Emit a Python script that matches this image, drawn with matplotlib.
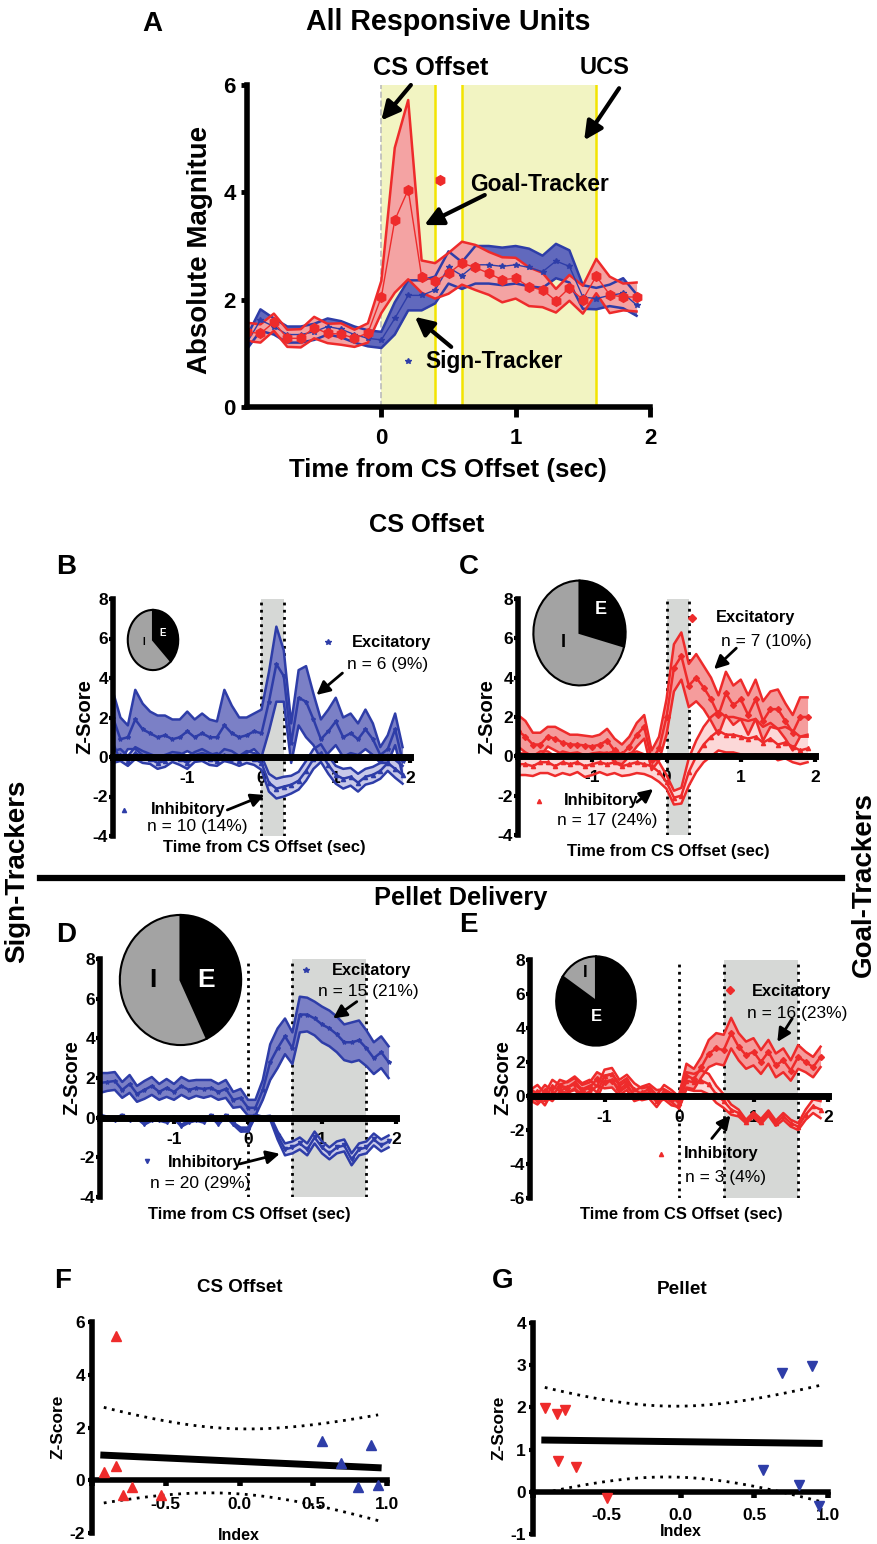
import numpy as np
import matplotlib
matplotlib.use('Agg')
import matplotlib.pyplot as plt
from matplotlib.lines import Line2D

W, H = 877, 1544
FONT = ['Liberation Sans', 'DejaVu Sans']
plt.rcParams['font.family'] = FONT
plt.rcParams['font.weight'] = 'bold'
plt.rcParams['axes.unicode_minus'] = False

BLUE = '#2e3da8'
RED = '#ee2b2b'

# ---------------- panel A : all responsive units ----------------
t_a = [-1.0, -0.9, -0.8, -0.7, -0.6, -0.5, -0.4, -0.3, -0.2, -0.1,
       0.0, 0.1, 0.2, 0.3, 0.4, 0.5, 0.6, 0.7, 0.8, 0.9,
       1.0, 1.1, 1.2, 1.3, 1.4, 1.5, 1.6, 1.7, 1.8, 1.9]
gt_mean = [1.40, 1.37, 1.58, 1.28, 1.28, 1.48, 1.37, 1.36, 1.28, 1.38,
           2.05, 3.48, 4.05, 2.43, 2.35, 2.49, 2.68, 2.60, 2.49, 2.37,
           2.40, 2.24, 2.18, 1.98, 2.22, 2.00, 2.44, 2.09, 2.05, 2.05]
gt_sem = [0.17, 0.17, 0.16, 0.16, 0.17, 0.20, 0.18, 0.20, 0.16, 0.18,
          0.30, 1.35, 1.67, 0.30, 0.33, 0.38, 0.40, 0.42, 0.40, 0.42,
          0.38, 0.36, 0.32, 0.22, 0.24, 0.26, 0.32, 0.34, 0.25, 0.27]
st_mean = [1.20, 1.62, 1.50, 1.35, 1.35, 1.40, 1.50, 1.45, 1.35, 1.28,
           1.25, 1.65, 2.08, 2.08, 2.18, 2.60, 2.45, 2.65, 2.65, 2.62,
           2.65, 2.60, 2.52, 2.72, 2.62, 2.05, 2.02, 2.08, 2.12, 1.90]
st_sem = [0.12, 0.20, 0.15, 0.15, 0.15, 0.15, 0.15, 0.15, 0.15, 0.15,
          0.15, 0.30, 0.28, 0.28, 0.25, 0.30, 0.25, 0.35, 0.35, 0.35,
          0.35, 0.35, 0.30, 0.32, 0.30, 0.22, 0.20, 0.20, 0.28, 0.20]

# ---------------- panels B-E : z-score traces ----------------
t_b = [-2.0, -1.9, -1.8, -1.7, -1.6, -1.5, -1.4, -1.3, -1.2, -1.1,
       -1.0, -0.9, -0.8, -0.7, -0.6, -0.5, -0.4, -0.3, -0.2, -0.1,
       0.0, 0.1, 0.2, 0.3, 0.4, 0.5, 0.6, 0.7, 0.8, 0.9,
       1.0, 1.1, 1.2, 1.3, 1.4, 1.5, 1.6, 1.7, 1.8, 1.9]

b_exc_mean = [2.0, 0.9, 1.0, 1.9, 1.4, 1.2, 1.0, 1.1, 0.9, 1.0,
              1.3, 1.0, 1.2, 1.0, 1.0, 1.6, 1.2, 1.0, 1.1, 1.3,
              1.2, 2.8, 4.7, 4.1, 0.7, 3.0, 2.8, 1.9, 0.9, 1.3,
              1.8, 1.0, 1.2, 0.9, 1.4, 0.9, 0.1, 0.4, 1.4, -0.2]
b_exc_sem = [1.3, 1.1, 0.6, 1.5, 1.3, 1.1, 1.1, 1.0, 1.0, 0.9,
             1.0, 0.9, 1.0, 0.9, 0.8, 1.8, 1.4, 1.0, 0.9, 0.9,
             1.2, 1.5, 1.9, 1.3, 1.0, 1.4, 1.8, 1.3, 1.0, 1.1,
             1.2, 1.0, 1.0, 0.8, 1.0, 0.8, 0.4, 0.7, 0.8, 0.7]
b_inh_mean = [0.0, 0.1, -0.2, 0.2, 0.0, -0.1, -0.3, -0.2, 0.0, -0.1,
              -0.3, 0.0, 0.1, -0.1, -0.2, 0.1, 0.0, -0.2, 0.0, -0.1,
              -0.3, -1.3, -1.6, -1.5, -1.4, -1.2, -0.7, -0.1, 0.2, -0.4,
              -0.9, -1.1, -1.0, -1.3, -1.0, -0.9, -0.7, -0.3, -0.6, -0.9]
b_inh_sem = [0.30, 0.30, 0.25, 0.30, 0.30, 0.25, 0.30, 0.30, 0.25, 0.30,
             0.30, 0.25, 0.30, 0.30, 0.25, 0.30, 0.30, 0.25, 0.30, 0.30,
             0.35, 0.45, 0.50, 0.50, 0.45, 0.45, 0.50, 0.50, 0.45, 0.45,
             0.45, 0.50, 0.45, 0.45, 0.40, 0.40, 0.40, 0.40, 0.45, 0.45]

c_exc_mean = [1.3, 1.0, 0.6, 0.6, 1.0, 0.9, 0.7, 0.6, 0.6, 0.55,
              0.5, 0.6, 0.8, 0.3, 0.1, 0.5, 1.1, 1.5, -0.2, 0.4,
              2.0, 4.5, 5.1, 3.6, 4.0, 3.5, 2.9, 2.1, 3.2, 2.6,
              2.9, 2.1, 2.9, 1.8, 2.4, 2.4, 1.8, 1.2, 2.0, 2.0]
c_exc_sem = [0.8, 0.8, 0.6, 0.6, 0.5, 0.6, 0.6, 0.5, 0.5, 0.5,
             0.5, 0.5, 0.6, 0.6, 0.5, 0.5, 0.6, 0.6, 0.5, 0.6,
             0.9, 1.2, 1.2, 1.1, 1.2, 1.1, 1.1, 1.0, 1.1, 1.0,
             1.0, 1.0, 1.0, 1.0, 0.9, 1.0, 0.9, 0.9, 1.0, 1.0]
c_inh_mean = [-0.4, -0.4, -0.5, -0.3, -0.3, -0.5, -0.3, -0.4, -0.3, -0.5,
              -0.4, -0.3, -0.4, -0.3, -0.5, -0.4, -0.3, -0.4, -0.5, -0.8,
              -1.3, -2.1, -2.0, -0.8, 0.0, 0.6, 1.0, 1.3, 1.1, 1.1,
              1.0, 0.9, 1.0, 0.7, 0.9, 0.6, 0.7, 0.5, 0.3, 0.4]
c_inh_sem = [0.55, 0.55, 0.5, 0.55, 0.55, 0.5, 0.55, 0.55, 0.5, 0.55,
             0.55, 0.5, 0.55, 0.55, 0.5, 0.55, 0.55, 0.5, 0.55, 0.5,
             0.35, 0.35, 0.4, 0.7, 0.8, 0.9, 1.0, 1.0, 0.9, 0.9,
             0.9, 0.9, 0.9, 0.8, 0.8, 0.8, 0.8, 0.8, 0.7, 0.7]

d_exc_mean = [1.75, 1.8, 1.85, 1.4, 1.7, 1.2, 1.4, 1.6, 1.3, 1.5,
              1.3, 1.6, 1.4, 1.5, 1.45, 1.5, 1.3, 1.45, 0.9, 1.0,
              0.5, 0.5, 1.4, 2.8, 3.5, 4.1, 3.5, 5.2, 5.2, 5.0,
              4.7, 4.5, 4.2, 3.8, 3.8, 3.9, 3.5, 3.0, 3.3, 2.8]
d_exc_sem = [0.5, 0.45, 0.45, 0.4, 0.45, 0.4, 0.45, 0.45, 0.4, 0.45,
             0.4, 0.45, 0.45, 0.4, 0.45, 0.4, 0.4, 0.45, 0.4, 0.45,
             0.4, 0.4, 0.5, 0.9, 1.0, 0.9, 0.8, 0.9, 0.85, 0.85,
             0.9, 0.9, 0.9, 0.9, 1.0, 1.0, 0.9, 0.8, 0.8, 0.8]
d_inh_mean = [0.1, 0.0, -0.1, 0.1, -0.1, 0.0, -0.3, -0.1, -0.1, -0.2,
              0.0, -0.4, -0.2, -0.1, -0.2, 0.1, -0.3, 0.1, -0.3, -0.6,
              -0.6, 0.1, 0.0, 0.0, -0.9, -1.6, -1.5, -1.3, -1.6, -1.0,
              -1.5, -1.8, -1.5, -1.4, -2.1, -1.6, -1.5, -1.1, -1.4, -1.2]
d_inh_sem = [0.05, 0.05, 0.05, 0.05, 0.05, 0.05, 0.05, 0.05, 0.05, 0.05,
             0.05, 0.05, 0.05, 0.05, 0.05, 0.05, 0.05, 0.05, 0.05, 0.1,
             0.1, 0.05, 0.05, 0.1, 0.2, 0.3, 0.3, 0.3, 0.3, 0.3,
             0.3, 0.3, 0.3, 0.3, 0.3, 0.3, 0.3, 0.3, 0.3, 0.3]

e_exc_mean = [0.1, -0.2, 0.3, 0.0, 0.6, 0.5, 0.7, 0.3, 0.5, 1.0,
              0.8, 0.9, 0.4, 0.7, 0.0, 0.2, 0.4, 0.0, 0.1, -0.2,
              -0.3, 1.2, 1.0, 1.7, 2.5, 2.8, 2.7, 3.7, 2.9, 2.4,
              2.6, 2.0, 2.6, 1.8, 2.1, 1.5, 2.3, 2.0, 1.7, 2.3]
e_exc_sem = [0.35, 0.3, 0.35, 0.3, 0.35, 0.3, 0.35, 0.35, 0.3, 0.4,
             0.35, 0.4, 0.35, 0.35, 0.3, 0.35, 0.3, 0.35, 0.3, 0.35,
             0.35, 0.7, 0.6, 0.6, 0.8, 0.9, 0.9, 0.9, 0.8, 0.8,
             0.8, 0.7, 0.7, 0.7, 0.7, 0.6, 0.7, 0.6, 0.6, 0.6]
e_inh_mean = [0.0, 0.3, -0.2, 0.6, 0.3, 0.5, 0.8, 0.4, 0.6, 0.2,
              1.2, 1.3, 0.6, 0.9, 0.4, 0.1, 0.2, -0.3, 0.3, 0.0,
              -0.4, 0.9, 0.8, 0.9, 0.7, 0.1, -0.3, -0.8, -1.0, -1.5,
              -1.1, -1.5, -1.0, -1.6, -1.2, -1.6, -1.8, -1.1, -0.6, -0.8]
e_inh_sem = [0.35, 0.35, 0.35, 0.35, 0.35, 0.35, 0.35, 0.35, 0.35, 0.35,
             0.35, 0.35, 0.35, 0.35, 0.35, 0.35, 0.35, 0.35, 0.35, 0.35,
             0.35, 0.5, 0.5, 0.6, 0.6, 0.5, 0.4, 0.3, 0.2, 0.1,
             0.15, 0.15, 0.15, 0.15, 0.2, 0.2, 0.2, 0.3, 0.4, 0.5]

# excitatory / inhibitory unit counts (pies)
b_counts = [6, 10]
c_counts = [7, 17]
d_counts = [15, 20]
e_counts = [16, 3]

# ---------------- panels F-G : index vs z-score ----------------
f_gt_x = [-0.92, -0.84, -0.84, -0.79, -0.73, -0.53]
f_gt_y = [0.30, 5.47, 0.55, -0.55, -0.24, -0.55]
f_st_x = [0.56, 0.69, 0.80, 0.89, 0.94]
f_st_y = [1.50, 0.66, -0.25, 1.35, -0.17]
g_gt_x = [-0.92, -0.84, -0.78, -0.83, -0.71, -0.50]
g_gt_y = [1.99, 1.84, 1.94, 0.72, 0.58, -0.14]
g_st_x = [0.69, 0.89, 0.56, 0.80, 0.94]
g_st_y = [2.82, 2.98, 0.52, 0.17, -0.33]


def box(l, t, r, b):
    return [l / W, 1 - b / H, (r - l) / W, (b - t) / H]


def px(x, y):
    return x / W, 1 - y / H


def arrow(ax, tail, head, lw=2, hl=0.8, hw=0.4):
    ax.annotate('', xy=head, xytext=tail, annotation_clip=False,
                arrowprops=dict(arrowstyle=f'-|>,head_length={hl},head_width={hw}',
                                lw=lw, color='k', shrinkA=0, shrinkB=0,
                                mutation_scale=10))


fig = plt.figure(figsize=(W / 100, H / 100), dpi=100)

# ================= A =================
ax = fig.add_axes(box(247, 85, 650, 407))
ax.axvspan(0, 0.4, color='#f2f4c2', lw=0, zorder=0)
ax.axvspan(0.6, 1.6, color='#f2f4c2', lw=0, zorder=0)
for xv in (0.4, 0.6, 1.6):
    ax.axvline(xv, color='#f3e400', lw=1.8, zorder=0.5)
ax.axvline(0, color='#bbbbbb', lw=1.2, ls='--', zorder=0.5)
ta = np.array(t_a)
sm, ss = np.array(st_mean), np.array(st_sem)
gm, gs = np.array(gt_mean), np.array(gt_sem)
ax.fill_between(ta, sm - ss, sm + ss, color='#6169bd', lw=0, zorder=1)
ax.fill_between(ta, gm - gs, gm + gs, color='#f4a3a3', lw=0, zorder=1.1)
ax.plot(ta, sm - ss, color=BLUE, lw=1.8, zorder=2)
ax.plot(ta, sm + ss, color=BLUE, lw=1.8, zorder=2)
ax.plot(ta, gm - gs, color=RED, lw=1.8, zorder=2.1)
ax.plot(ta, gm + gs, color=RED, lw=1.8, zorder=2.1)
ax.plot(ta, sm, color=BLUE, lw=1, marker='*', ms=4, zorder=2.2)
ax.plot(ta, gm, color=RED, lw=1, marker='h', ms=7, zorder=2.3)
ax.plot([0.44], [4.23], 'h', color=RED, ms=7, zorder=3)
ax.plot([0.2], [0.86], '*', color=BLUE, ms=4, zorder=3)
ax.set_xlim(-1, 2)
ax.set_ylim(0, 6)
ax.set_xticks([0, 1, 2])
ax.set_yticks([0, 2, 4, 6])
for s in ('top', 'right'):
    ax.spines[s].set_visible(False)
for s in ('left', 'bottom'):
    ax.spines[s].set_linewidth(4)
ax.tick_params(labelsize=16, width=3.5, length=7)
ax.tick_params(axis='x', pad=8)
ax.tick_params(axis='y', length=4, pad=4)
ax.text(0.37, 6.32, 'CS Offset', fontsize=18.3, ha='center', va='center')
ax.text(1.66, 6.32, 'UCS', fontsize=17, ha='center', va='center')
ax.text(1.18, 4.15, 'Goal-Tracker', fontsize=16.4, ha='center', va='center')
ax.text(0.84, 0.84, 'Sign-Tracker', fontsize=16.4, ha='center', va='center')
arrow(ax, (0.22, 6.0), (0.0, 5.34), lw=3, hl=1.1, hw=0.55)
arrow(ax, (1.77, 5.94), (1.51, 4.97), lw=3, hl=1.1, hw=0.55)
arrow(ax, (0.77, 3.95), (0.32, 3.39), lw=3, hl=1.1, hw=0.55)
arrow(ax, (0.52, 1.12), (0.25, 1.68), lw=3, hl=1.1, hw=0.55)
fig.text(*px(448, 470), 'Time from CS Offset (sec)', fontsize=18.6, ha='center', va='center')
fig.text(*px(200, 250), 'Absolute Magnitue', fontsize=20, ha='center', va='center', rotation=90)
fig.text(*px(448, 22), 'All Responsive Units', fontsize=20.6, ha='center', va='center')
fig.text(*px(152, 24), 'A', fontsize=20, ha='center', va='center')


# ================= B-E =================
def trace_panel(bb, ylo, yhi, exc_m, exc_s, inh_m, inh_s, lc, exc_fc, inh_fc,
                exc_mk, inh_mk, span, dots):
    ax = fig.add_axes(box(*bb))
    t = np.array(t_b)
    ax.axvspan(*span, color='#d6d8d6', lw=0, zorder=0)
    for xv in dots:
        ax.axvline(xv, color='k', lw=2, ls=(0, (1, 1.6)), zorder=0.5)
    for m, s, fc, mk in ((inh_m, inh_s, inh_fc, inh_mk), (exc_m, exc_s, exc_fc, exc_mk)):
        m = np.array(m)
        s = np.array(s)
        ax.fill_between(t, m - s, m + s, color=fc, lw=0, zorder=1)
        ax.plot(t, m + s, color=lc, lw=1.8, zorder=2)
        ax.plot(t, m - s, color=lc, lw=1.8, zorder=2)
        ax.plot(t, m, color=lc, lw=1.8, marker=mk, ms=3, zorder=2)
    ax.set_xlim(-2, 2)
    ax.set_ylim(ylo, yhi)
    for sp in ('top', 'right'):
        ax.spines[sp].set_visible(False)
    ax.spines['left'].set_linewidth(4)
    ax.spines['bottom'].set_linewidth(5)
    ax.spines['bottom'].set_position(('data', 0))
    ax.set_xticks([-2, -1, 0, 1, 2])
    ax.set_xticklabels(['', '-1', '0', '1', '2'])
    ax.set_yticks(list(range(ylo, yhi + 1, 2)))
    ax.tick_params(labelsize=12.5, width=3, length=3, pad=0.5)
    ax.tick_params(axis='x', length=4, pad=6)
    return ax


def legend_bits(ax, lc, exc_mk, inh_mk, ex, inh):
    (etx, ety), (enx, eny), (emx, emy), etail, ehead, ntxt_e = ex
    (itx, ity), (inx, iny), (imx, imy), itail, ihead, ntxt_i = inh
    ax.text(etx, ety, 'Excitatory', fontsize=11.8, ha='left', va='center', zorder=5)
    ax.text(enx, eny, ntxt_e, fontsize=12.5, fontweight='normal', ha='left', va='center', zorder=5)
    ax.plot([emx], [emy], marker=exc_mk, color=lc, ms=4, zorder=5, clip_on=False)
    ax.text(itx, ity, 'Inhibitory', fontsize=11.8, ha='left', va='center', zorder=5)
    ax.text(inx, iny, ntxt_i, fontsize=12.5, fontweight='normal', ha='left', va='center', zorder=5)
    ax.plot([imx], [imy], marker=inh_mk, color=lc, ms=3, zorder=5, clip_on=False)
    arrow(ax, etail, ehead, lw=2, hl=0.8, hw=0.4)
    arrow(ax, itail, ihead, lw=2, hl=0.8, hw=0.4)


def pie_inset(bb, counts, fs, pos):
    pa = fig.add_axes(box(*bb))
    pa.pie(counts, colors=['black', '#a3a3a3'], startangle=90, counterclock=False,
           wedgeprops=dict(edgecolor='black', lw=1.5))
    pa.set_aspect('auto')
    pa.set_xlim(-1.03, 1.03)
    pa.set_ylim(-1.03, 1.03)
    pa.text(*pos[0], 'E', color='white', fontsize=fs, ha='center', va='center')
    pa.text(*pos[1], 'I', color='black', fontsize=fs, ha='center', va='center')


# B
ax = trace_panel((113, 599, 410, 836), -4, 8, b_exc_mean, b_exc_sem, b_inh_mean, b_inh_sem,
                 BLUE, '#7b80c6', '#c8c9e9', '*', '^', (0, 0.3), (0, 0.3))
legend_bits(ax, BLUE, '*', '^',
            ((1.22, 5.82), (1.15, 4.66), (0.89, 5.82), (1.09, 4.25), (0.74, 3.14), 'n = 6 (9%)'),
            ((-1.49, -2.68), (-1.54, -3.54), (-1.85, -2.68), (-0.46, -2.68), (0.04, -1.92), 'n = 10 (14%)'))
pie_inset((127, 609, 179, 671), b_counts, 7, [(0.38, 0.23), (-0.38, -0.06)])

# C
ax = trace_panel((518, 599, 815, 835), -4, 8, c_exc_mean, c_exc_sem, c_inh_mean, c_inh_sem,
                 RED, '#f59c9c', '#fcd8d8', 'D', '^', (0, 0.3), (0, 0.3))
legend_bits(ax, RED, 'D', '^',
            ((0.66, 7.04), (0.73, 5.86), (0.35, 7.04), (0.94, 5.5), (0.64, 4.43), 'n = 7 (10%)'),
            ((-1.38, -2.25), (-1.47, -3.26), (-1.72, -2.25), (-0.40, -2.33), (-0.18, -1.66), 'n = 17 (24%)'))
pie_inset((532, 579, 627, 687), c_counts, 13, [(0.47, 0.45), (-0.36, -0.19)])

# D
ax = trace_panel((100, 959, 396, 1197), -4, 8, d_exc_mean, d_exc_sem, d_inh_mean, d_inh_sem,
                 BLUE, '#7b80c6', '#c8c9e9', '*', 'v', (0.6, 1.6), (0, 0.6, 1.6))
legend_bits(ax, BLUE, '*', 'v',
            ((1.13, 7.42), (0.95, 6.36), (0.79, 7.45), (1.47, 5.85), (1.15, 5.0), 'n = 15 (21%)'),
            ((-1.08, -2.24), (-1.32, -3.34), (-1.37, -2.16), (-0.11, -2.33), (0.43, -1.82), 'n = 20 (29%)'))
pie_inset((118, 913, 243, 1047), d_counts, 19, [(0.42, 0.0), (-0.45, 0.0)])

# E
ax = trace_panel((530, 960, 828, 1198), -6, 8, e_exc_mean, e_exc_sem, e_inh_mean, e_inh_sem,
                 RED, '#f59c9c', '#fcd8d8', 'D', '^', (0.6, 1.6), (0, 0.6, 1.6))
legend_bits(ax, RED, 'D', '^',
            ((0.98, 6.13), (0.91, 4.85), (0.69, 6.23), (1.52, 4.56), (1.32, 3.18), 'n = 16 (23%)'),
            ((0.07, -3.4), (0.08, -4.77), (-0.24, -3.4), (0.44, -2.5), (0.69, -1.14), 'n = 3 (4%)'))
pie_inset((555, 955, 637, 1047), e_counts, 12, [(0.02, -0.35), (-0.26, 0.63)])

for (x, y) in ((264, 848), (668, 852), (249, 1215), (681, 1215)):
    fig.text(*px(x, y), 'Time from CS Offset (sec)', fontsize=11.9, ha='center', va='center')
for (x, y) in ((85, 717), (487, 717), (72, 1078), (503, 1078)):
    fig.text(*px(x, y), 'Z-Score', fontsize=14.5, ha='center', va='center', rotation=90)

fig.text(*px(427, 525), 'CS Offset', fontsize=18.3, ha='center', va='center')
fig.text(*px(461, 898), 'Pellet Delivery', fontsize=18.3, ha='center', va='center')
fig.add_artist(Line2D([40 / W, 842 / W], [1 - 878 / H, 1 - 878 / H], lw=4.5, color='k'))
fig.text(*px(17, 871), 'Sign-Trackers', fontsize=20, ha='center', va='center', rotation=90)
fig.text(*px(864, 885), 'Goal-Trackers', fontsize=20, ha='center', va='center', rotation=90)

for lab, (x, y) in (('B', (66, 567)), ('C', (469, 567)), ('D', (66, 935)), ('E', (468, 925)),
                    ('F', (63, 1281)), ('G', (503, 1281))):
    fig.text(*px(x, y), lab, fontsize=20, ha='center', va='center')


# ================= F-G =================
def scatter_panel(bb, gx, gy, sx, sy, mk, ylo, yhi):
    ax = fig.add_axes(box(*bb))
    ax.plot(gx, gy, ls='none', marker=mk, color=RED, ms=7, zorder=3, clip_on=False)
    ax.plot(sx, sy, ls='none', marker=mk, color=BLUE, ms=7, zorder=3, clip_on=False)
    x = np.array(gx + sx)
    y = np.array(gy + sy)
    n = len(x)
    slope, icpt = np.polyfit(x, y, 1)
    xs = np.linspace(x.min(), x.max(), 100)
    yhat = icpt + slope * xs
    resid = y - (icpt + slope * x)
    s = np.sqrt(np.sum(resid ** 2) / (n - 2))
    se = s * np.sqrt(1 / n + (xs - x.mean()) ** 2 / np.sum((x - x.mean()) ** 2))
    tval = 2.262  # t(0.975, df=9)
    ax.plot(xs, yhat, color='k', lw=5, zorder=2)
    ax.plot(xs, yhat + tval * se, color='k', lw=2, ls=(0, (1, 2)), zorder=2)
    ax.plot(xs, yhat - tval * se, color='k', lw=2, ls=(0, (1, 2)), zorder=2)
    ax.set_xlim(-1, 1)
    ax.set_ylim(ylo, yhi)
    for sp in ('top', 'right'):
        ax.spines[sp].set_visible(False)
    ax.spines['left'].set_linewidth(4)
    ax.spines['bottom'].set_linewidth(4)
    ax.spines['bottom'].set_position(('data', 0))
    ax.set_xticks([-1, -0.5, 0, 0.5, 1.0])
    ax.set_xticklabels(['', '-0.5', '0.0', '0.5', '1.0'])
    ax.set_yticks(list(range(ylo, yhi + 1, 1 if yhi - ylo < 6 else 2)))
    ax.tick_params(labelsize=12.5, width=3, length=3, pad=2)
    ax.tick_params(axis='x', width=4, length=4, pad=8)
    return ax


scatter_panel((92, 1322, 387, 1533), f_gt_x, f_gt_y, f_st_x, f_st_y, '^', -2, 6)
scatter_panel((533, 1323, 828, 1534), g_gt_x, g_gt_y, g_st_x, g_st_y, 'v', -1, 4)
fig.text(*px(240, 1288), 'CS Offset', fontsize=13.5, ha='center', va='center')
fig.text(*px(682, 1290), 'Pellet', fontsize=13.7, ha='center', va='center')
fig.text(*px(239, 1535), 'Index', fontsize=11.5, ha='center', va='center')
fig.text(*px(681, 1532), 'Index', fontsize=11.5, ha='center', va='center')
fig.text(*px(58, 1427), 'Z-Score', fontsize=12.5, ha='center', va='center', rotation=90)
fig.text(*px(499, 1428), 'Z-Score', fontsize=12.5, ha='center', va='center', rotation=90)

fig.savefig('out.png', dpi=100)
